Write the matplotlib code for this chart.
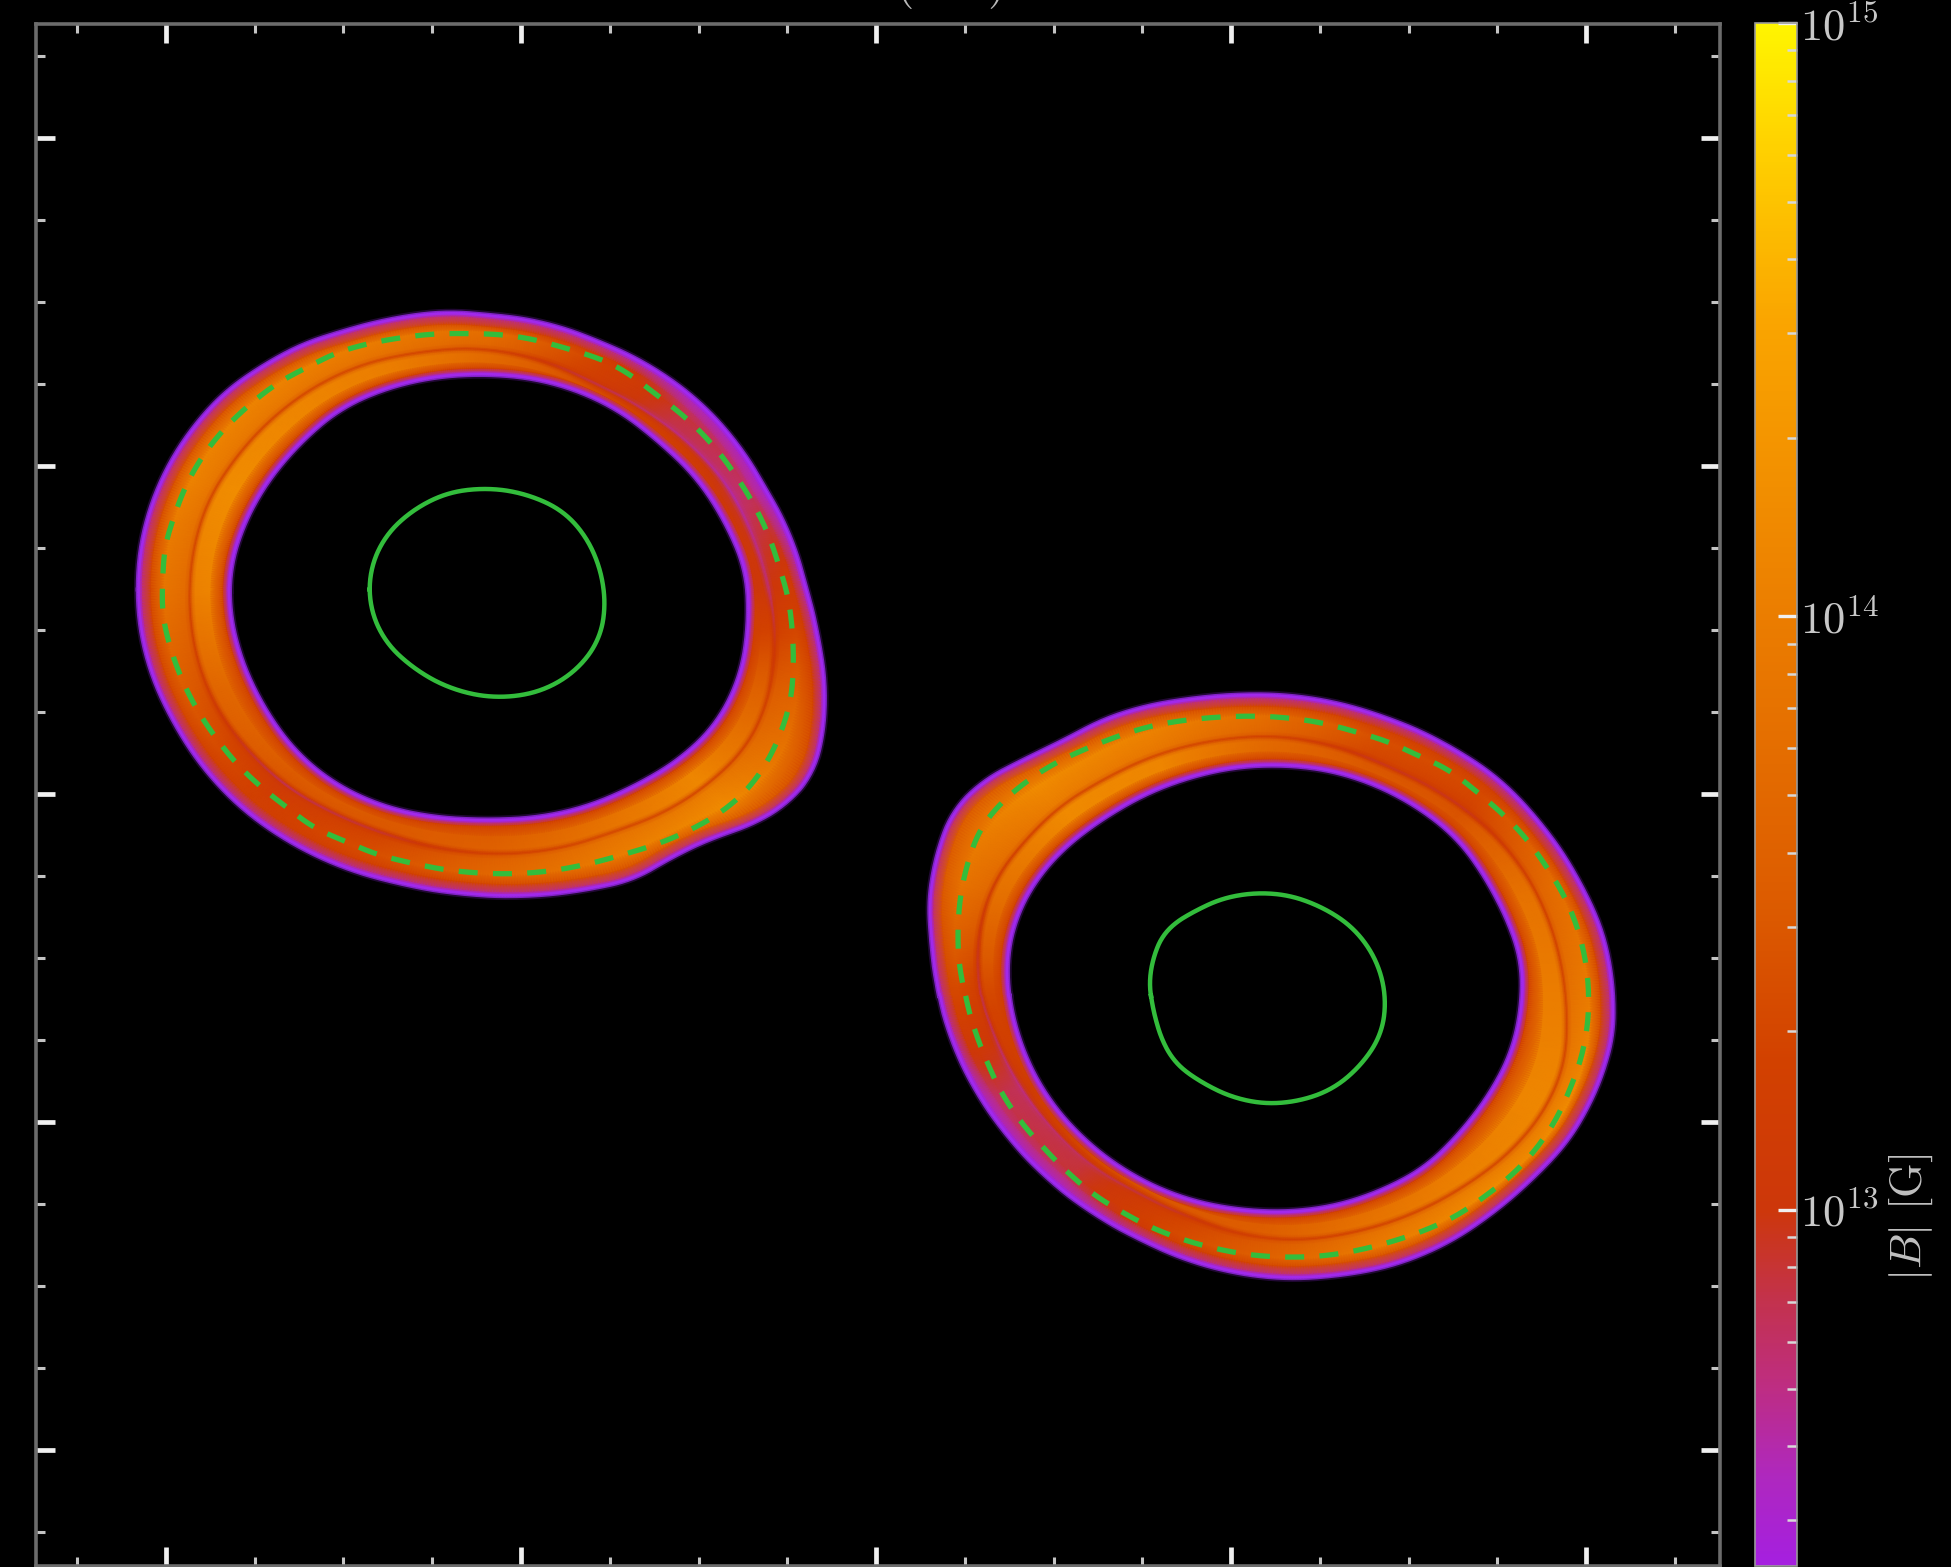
import numpy as np
import matplotlib
matplotlib.use("Agg")
import matplotlib.pyplot as plt
from matplotlib.colors import LinearSegmentedColormap, LogNorm
from matplotlib.ticker import MultipleLocator

plt.rcParams['mathtext.fontset'] = 'cm'
plt.rcParams['font.family'] = ['cmr10', 'DejaVu Serif']
plt.rcParams['axes.formatter.use_mathtext'] = True

# Traced contours, (x, y) in trace units: 73.24 per km-unit in x, 79.08 in y (y grows downward)
s1_origin = (-21.859, 15.68)
s1_outer_x = [720,800,850,950,1030,1150,1240,1310,1370,1420,1455,1480,1495,1490,1470,1420,1350,1260,1180,1100,1000,880,750,620,500,400,290,210,150,110,85,78,85,110,150,200,260,340,420,500,600]
s1_outer_y = [78,85,90,115,150,220,300,390,500,610,740,860,980,1100,1190,1260,1310,1345,1390,1445,1470,1485,1480,1455,1415,1360,1270,1170,1060,960,850,750,640,530,430,345,270,205,155,125,95]
s1_inner_x = [800,870,950,1060,1150,1230,1290,1330,1335,1320,1270,1200,1100,1000,900,800,700,590,480,400,340,295,270,270,295,340,410,500,600,700]
s1_inner_y = [230,235,255,310,390,480,590,700,830,950,1070,1150,1220,1270,1295,1300,1295,1270,1210,1130,1030,920,800,700,600,500,400,310,260,235]
s1_line_x = [770,900,1020,1130,1220,1290,1340,1370,1390,1390,1370,1330,1260,1170,1060,950,820,720,600,490,390,310,250,210,190,185,195,225,280,350,440,540,660]
s1_line_y = [165,190,250,320,400,490,600,700,820,930,1040,1130,1210,1280,1330,1370,1385,1375,1340,1290,1225,1140,1050,950,850,750,640,530,430,340,260,205,175]
s1_dash_x = [700,760,850,960,1060,1150,1215,1265,1310,1345,1375,1400,1418,1428,1430,1425,1405,1375,1335,1280,1220,1150,1080,1000,930,850,780,700,640,570,510,440,390,335,285,240,200,170,145,130,130,135,155,180,215,260,310,365,430,490,550,620]
s1_dash_y = [130,130,135,165,205,280,340,400,470,535,605,690,760,850,925,1010,1090,1165,1230,1285,1325,1360,1385,1410,1425,1432,1430,1420,1405,1385,1355,1320,1275,1225,1170,1105,1035,965,885,810,720,640,565,490,420,355,300,250,210,175,155,140]
s1_core_x = [790,880,960,1000,1030,1040,1030,990,920,820,730,650,590,560,560,590,650,720]
s1_core_y = [505,520,565,620,700,780,860,930,985,1005,985,935,870,790,700,620,555,515]

s2_origin = (0.676, 3.783)
s2_outer_x = [700,800,900,1000,1140,1230,1320,1400,1450,1470,1470,1440,1380,1300,1220,1130,1030,900,800,700,600,500,400,300,220,160,110,80,65,60,80,110,170,260,340,420,500,600]
s2_outer_y = [60,62,80,115,190,260,370,510,640,770,880,1000,1130,1230,1310,1380,1430,1460,1467,1455,1425,1375,1310,1220,1120,1020,900,780,650,560,430,340,270,215,170,120,90,70]
s2_inner_x = [800,870,950,1050,1150,1210,1250,1280,1280,1260,1210,1150,1080,1000,900,800,700,580,470,380,300,250,228,222,240,280,340,420,500,600,700]
s2_inner_y = [232,240,265,320,410,510,600,700,810,920,1030,1120,1200,1250,1290,1305,1300,1270,1210,1130,1020,900,800,700,600,510,430,360,305,260,235]
s2_line_x = [780,900,1010,1120,1220,1290,1340,1365,1375,1370,1330,1260,1170,1060,940,820,720,600,490,390,310,240,195,165,160,170,200,260,330,420,530,650]
s2_line_y = [160,185,235,300,390,490,610,720,840,950,1060,1160,1240,1310,1355,1375,1365,1320,1260,1190,1100,990,880,780,680,590,500,410,330,265,205,170]
s2_dash_x = [700,790,870,940,1010,1070,1130,1190,1240,1290,1330,1365,1392,1412,1420,1418,1405,1380,1350,1305,1260,1205,1150,1085,1015,950,880,800,720,650,580,520,455,400,345,295,250,210,180,155,135,122,120,125,140,165,205,260,320,385,450,520,585,645]
s2_dash_y = [112,115,128,150,175,208,240,295,345,405,470,535,605,690,770,855,935,1015,1090,1165,1220,1270,1315,1350,1378,1398,1412,1416,1410,1395,1372,1345,1305,1265,1210,1150,1090,1020,945,870,785,705,625,545,465,385,325,270,225,190,160,135,122,115]
s2_core_x = [730,800,870,920,960,990,1000,990,950,890,820,760,690,620,570,545,525,515,525,550,600,660]
s2_core_y = [540,545,575,610,660,730,800,880,950,1010,1038,1045,1030,990,950,900,820,760,690,625,590,555]

# log10 |B| read along the ring, at these position angles (degrees, counter-clockwise from +x)
sector_deg = [-180,-157.5,-135,-112.5,-90,-67.5,-45,-22.5,0,22.5,45,67.5,90,112.5,135,157.5]
s1_band_in  = [14.1,13.7,13.55,13.5,13.55,13.8,14.1,13.6,13.0,13.0,13.2,13.4,13.7,14.0,14.1,14.2]
s1_band_ln  = [13.3,13.1,12.8,12.9,13.2,13.3,13.3,13.2,12.75,12.6,12.7,12.85,13.2,13.3,13.3,13.3]
s1_band_out = [13.9,13.5,13.2,13.4,13.7,14.0,14.2,13.7,13.1,12.8,12.9,13.3,13.8,14.0,14.1,14.1]
s1_band_rim = [13.3,13.3,13.2,13.2,13.3,13.4,13.5,13.3,13.1,12.7,12.75,13.2,13.3,13.4,13.4,13.4]
s2_band_in  = [13.3,13.15,13.35,13.5,13.55,13.8,14.0,14.1,14.0,13.85,13.45,13.5,13.7,14.1,14.15,13.8]
s2_band_ln  = [12.85,12.7,12.8,12.9,13.2,13.25,13.3,13.3,13.3,13.2,12.95,12.95,13.25,13.3,13.3,13.1]
s2_band_out = [13.3,12.85,12.9,13.3,13.6,14.0,14.2,14.2,14.0,13.8,13.35,13.4,13.8,14.1,14.2,13.9]
s2_band_rim = [13.3,12.75,12.75,13.15,13.3,13.4,13.4,13.4,13.3,13.3,13.2,13.25,13.3,13.4,13.5,13.5]

cb_log = [12.4,12.55,12.7,12.85,13.0,13.25,13.5,14.0,14.5,14.8,15.0]
cb_rgb = ['#a51fe0','#af28be','#be2d82','#c3324b','#cd370a','#d24100','#dc5a00','#eb7d00','#faa500','#ffd200','#fff500']
vmin_log, vmax_log = 12.4, 15.0

TX, TY = 73.24, 79.08


def to_data(tx, ty, origin):
    return origin[0] + np.array(tx, float) / TX, origin[1] - np.array(ty, float) / TY


def polar_curve(tx, ty, origin, center, grid, width=5):
    x, y = to_data(tx, ty, origin)
    th = np.arctan2(y - center[1], x - center[0])
    r = np.hypot(x - center[0], y - center[1])
    o = np.argsort(th)
    rr = np.interp(grid, th[o], r[o], period=2 * np.pi)
    k = np.ones(width) / width
    pad = np.concatenate([rr[-width:], rr, rr[:width]])
    return np.convolve(pad, k, mode='same')[width:-width]


def draw_star(ax, cfg, cmap, norm):
    org = cfg['origin']
    cx, cy = to_data(cfg['core_x'], cfg['core_y'], org)
    center = (cx.mean(), cy.mean())
    grid = np.linspace(-np.pi, np.pi, 721)
    ro = polar_curve(cfg['outer_x'], cfg['outer_y'], org, center, grid, 15)
    ri = polar_curve(cfg['inner_x'], cfg['inner_y'], org, center, grid, 25)
    rl = polar_curve(cfg['line_x'], cfg['line_y'], org, center, grid, 21)
    rd = polar_curve(cfg['dash_x'], cfg['dash_y'], org, center, grid, 13)
    rc = polar_curve(cfg['core_x'], cfg['core_y'], org, center, grid, 41)

    def band(vals):
        return np.interp(np.degrees(grid), sector_deg, vals, period=360)

    vi, vl, vo, vr = band(cfg['band_in']), band(cfg['band_ln']), band(cfg['band_out']), band(cfg['band_rim'])
    wall = np.minimum(13.2, vi)
    e = 0.07
    radii = [ri, ri + 1.4 * e, ri + 3 * e, 0.5 * (ri + rl), rl - 2 * e, rl - 0.8 * e, rl, rl + 0.8 * e, rl + 2 * e,
             0.5 * (rl + ro), ro - 5 * e, ro - 1.4 * e, ro]
    vals = [np.full_like(vi, vmin_log), 0.3 * wall + 0.7 * vmin_log, wall, vi,
            0.7 * vi + 0.3 * vo, 0.5 * (vi + vl), vl, 0.5 * (vo + vl), 0.75 * vo + 0.25 * vl, vo, vr,
            0.3 * vr + 0.7 * vmin_log, np.full_like(vi, vmin_log)]
    R = np.array(radii)
    V = np.array(vals)
    X = center[0] + R * np.cos(grid)
    Y = center[1] + R * np.sin(grid)
    mesh = ax.pcolormesh(X, Y, 10.0 ** V, shading='gouraud', cmap=cmap, norm=norm, zorder=2, rasterized=True)
    for edge in (ri, ro):
        ex, ey = center[0] + edge * np.cos(grid), center[1] + edge * np.sin(grid)
        ax.plot(ex, ey, color='#9a28f0', lw=5.5, alpha=0.22, zorder=2.5)
        ax.plot(ex, ey, color='#a02cf5', lw=3.0, alpha=0.75, zorder=2.5)
    ax.plot(center[0] + rd * np.cos(grid), center[1] + rd * np.sin(grid), color='#33bd3c', lw=3.8,
            ls=(0, (3.6, 2.9)), dash_capstyle='butt', zorder=3)
    ax.plot(center[0] + rc * np.cos(grid), center[1] + rc * np.sin(grid), color='#33bd3c', lw=3.2, zorder=3)
    return mesh


W, H = 1951, 1567
fig = plt.figure(figsize=(W / 100, H / 100), dpi=100, facecolor='black')
ax = fig.add_axes([36 / W, 1 - 1566 / H, (1720 - 36) / W, (1566 - 24) / H], facecolor='black')
cax = fig.add_axes([1755 / W, 1 - 1566 / H, 42 / W, (1566 - 23) / H], facecolor='black')

cmap = LinearSegmentedColormap.from_list(
    'bfield', [((v - vmin_log) / (vmax_log - vmin_log), c) for v, c in zip(cb_log, cb_rgb)], N=512)
norm = LogNorm(vmin=10 ** vmin_log, vmax=10 ** vmax_log)

star1 = dict(origin=s1_origin, outer_x=s1_outer_x, outer_y=s1_outer_y, inner_x=s1_inner_x, inner_y=s1_inner_y,
             line_x=s1_line_x, line_y=s1_line_y, dash_x=s1_dash_x, dash_y=s1_dash_y, core_x=s1_core_x, core_y=s1_core_y,
             band_in=s1_band_in, band_ln=s1_band_ln, band_out=s1_band_out, band_rim=s1_band_rim)
star2 = dict(origin=s2_origin, outer_x=s2_outer_x, outer_y=s2_outer_y, inner_x=s2_inner_x, inner_y=s2_inner_y,
             line_x=s2_line_x, line_y=s2_line_y, dash_x=s2_dash_x, dash_y=s2_dash_y, core_x=s2_core_x, core_y=s2_core_y,
             band_in=s2_band_in, band_ln=s2_band_ln, band_out=s2_band_out, band_rim=s2_band_rim)
mesh = draw_star(ax, star1, cmap, norm)
draw_star(ax, star2, cmap, norm)

ax.set_xlim(-23.66, 23.77)
ax.set_ylim(-23.55, 23.49)
ax.xaxis.set_major_locator(MultipleLocator(10))
ax.xaxis.set_minor_locator(MultipleLocator(2.5))
ax.yaxis.set_major_locator(MultipleLocator(10))
ax.yaxis.set_minor_locator(MultipleLocator(2.5))
ax.tick_params(which='major', direction='in', top=True, right=True, length=13.5, width=3.4, color='#f0f0f0',
               labelbottom=False, labelleft=False)
ax.tick_params(which='minor', direction='in', top=True, right=True, length=6.5, width=2.2, color='#c4c4c4')
for s in ax.spines.values():
    s.set_color('#6c6c6c')
    s.set_linewidth(2.6)

ax.text(2.06, 24.3, r'$(\quad\ \;\,)$', color='#b8b8b8', fontsize=34, ha='center', va='baseline', clip_on=False)

cb = fig.colorbar(mesh, cax=cax)
cb.outline.set_edgecolor('#9a9a9a')
cb.outline.set_linewidth(1.2)
cax.tick_params(which='major', direction='in', length=14, width=2.4, color='#f0f0f0', labelcolor='#c8c8c8',
                labelsize=32, pad=2)
cax.tick_params(which='minor', direction='in', length=7.5, width=1.8, color='#d8d8d8')
cb.set_label(r'$|B|\ [\mathrm{G}]$', color='#c0c0c0', fontsize=32, rotation=90, va='center', ha='center')
cax.yaxis.set_label_coords(3.72, 0.226)

fig.savefig('out.png', dpi=100, facecolor='black')
